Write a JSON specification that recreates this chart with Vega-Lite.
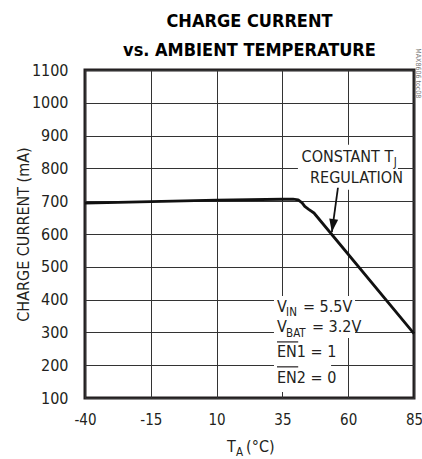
{
  "$schema": "https://vega.github.io/schema/vega-lite/v6.json",
  "autosize": {"type": "none"},
  "width": 329,
  "height": 328,
  "padding": {"left": 85, "top": 70, "right": 8, "bottom": 61},
  "background": "white",
  "title": {
    "text": ["CHARGE CURRENT", "vs. AMBIENT TEMPERATURE"],
    "font": "Liberation Sans Narrow, DejaVu Sans Condensed, sans-serif",
    "fontWeight": "bold",
    "fontSize": 18,
    "lineHeight": 29,
    "color": "#000000",
    "anchor": "middle",
    "offset": -12
  },
  "config": {
    "view": {"stroke": "#231f20", "strokeWidth": 3},
    "font": "Liberation Sans Narrow, DejaVu Sans Condensed, sans-serif"
  },
  "datasets": {
    "curve": [
      {"x": -40, "y": 694},
      {"x": -15, "y": 699},
      {"x": 10, "y": 703},
      {"x": 35, "y": 706},
      {"x": 39, "y": 706.5},
      {"x": 41, "y": 704},
      {"x": 42.5, "y": 695},
      {"x": 43.5, "y": 684},
      {"x": 45, "y": 675},
      {"x": 47, "y": 664},
      {"x": 85, "y": 296}
    ],
    "masks": [
      {"x": 40.9, "x2": 78.9, "y": 735, "y2": 872},
      {"x": 31.8, "x2": 62.6, "y": 283, "y2": 411},
      {"x": 31.8, "x2": 53.5, "y": 118, "y2": 283}
    ],
    "arrow": [
      {"x": 56.1, "y": 741, "x2": 53.8, "y2": 606}
    ],
    "head": [
      {"x": 53.8, "y": 606}
    ],
    "labels": [
      {"x": 42.3, "y": 821, "label": "CONSTANT T"},
      {"x": 45.5, "y": 756.5, "label": "REGULATION"},
      {"x": 32.95, "y": 362.6, "label": "V"},
      {"x": 42.8, "y": 362.6, "label": "= 5.5V"},
      {"x": 32.95, "y": 301.5, "label": "V"},
      {"x": 46.2, "y": 301.5, "label": "= 3.2V"},
      {"x": 32.95, "y": 225, "label": "EN1 = 1"},
      {"x": 32.95, "y": 146, "label": "EN2 = 0"},
      {"x": 13.95, "y": -65, "label": "T"},
      {"x": 21.2, "y": -65, "label": "(°C)"}
    ],
    "subs": [
      {"x": 77.3, "y": 808, "label": "J"},
      {"x": 36.4, "y": 350, "label": "IN"},
      {"x": 36.4, "y": 286, "label": "BAT"},
      {"x": 17.4, "y": -77, "label": "A"}
    ],
    "overlines": [
      {"x": 32.95, "x2": 41.0, "y": 271},
      {"x": 32.95, "x2": 41.0, "y": 195}
    ],
    "tag": [
      {"x": 86.6, "y": 1090, "label": "MAX8606 toc08"}
    ]
  },
  "encoding": {
    "x": {
      "field": "x",
      "type": "quantitative",
      "scale": {"domain": [-40, 85], "nice": false, "zero": false},
      "axis": {
        "title": null,
        "values": [-40, -15, 10, 35, 60, 85],
        "labelExpr": "datum.value + ''",
        "grid": true,
        "gridColor": "#333333",
        "gridWidth": 1,
        "gridOpacity": 1,
        "domain": false,
        "ticks": false,
        "tickSize": 0,
        "labelPadding": 14,
        "labelFontSize": 15,
        "labelColor": "#231f20",
        "labelFlush": false,
        "labelOverlap": false
      }
    },
    "y": {
      "field": "y",
      "type": "quantitative",
      "scale": {"domain": [100, 1100], "nice": false, "zero": false},
      "axis": {
        "title": "CHARGE CURRENT (mA)",
        "titleFontSize": 16,
        "titleFontWeight": "normal",
        "titleColor": "#231f20",
        "titlePadding": 0,
        "values": [100, 200, 300, 400, 500, 600, 700, 800, 900, 1000, 1100],
        "labelExpr": "datum.value + ''",
        "grid": true,
        "gridColor": "#333333",
        "gridWidth": 1,
        "gridOpacity": 1,
        "domain": false,
        "ticks": false,
        "tickSize": 0,
        "labelPadding": 17,
        "labelFontSize": 16,
        "labelColor": "#231f20",
        "labelFlush": false,
        "labelOverlap": false
      }
    }
  },
  "layer": [
    {
      "data": {"name": "masks"},
      "mark": {"type": "rect", "fill": "white", "stroke": null},
      "encoding": {"x2": {"field": "x2"}, "y2": {"field": "y2"}}
    },
    {
      "data": {"name": "curve"},
      "mark": {"type": "line", "color": "#111111", "strokeWidth": 2.8, "strokeJoin": "round", "strokeCap": "butt"},
      "encoding": {}
    },
    {
      "data": {"name": "arrow"},
      "mark": {"type": "rule", "color": "#111111", "strokeWidth": 1.8},
      "encoding": {"x2": {"field": "x2"}, "y2": {"field": "y2"}}
    },
    {
      "data": {"name": "head"},
      "mark": {"type": "point", "filled": true, "color": "#111111", "opacity": 1, "size": 144, "angle": 8, "shape": "M0,0L-0.75,-2.17L0.75,-2.17Z", "strokeWidth": 0},
      "encoding": {}
    },
    {
      "data": {"name": "labels"},
      "mark": {"type": "text", "align": "left", "baseline": "alphabetic", "fontSize": 16, "color": "#231f20", "clip": false},
      "encoding": {"text": {"field": "label"}}
    },
    {
      "data": {"name": "subs"},
      "mark": {"type": "text", "align": "left", "baseline": "alphabetic", "fontSize": 11.5, "color": "#231f20", "clip": false},
      "encoding": {"text": {"field": "label"}}
    },
    {
      "data": {"name": "overlines"},
      "mark": {"type": "rule", "color": "#231f20", "strokeWidth": 1.2},
      "encoding": {"x2": {"field": "x2"}}
    },
    {
      "data": {"name": "tag"},
      "mark": {"type": "text", "align": "center", "baseline": "middle", "angle": 90, "fontSize": 7, "color": "#777777", "clip": false},
      "encoding": {"text": {"field": "label"}}
    }
  ]
}
